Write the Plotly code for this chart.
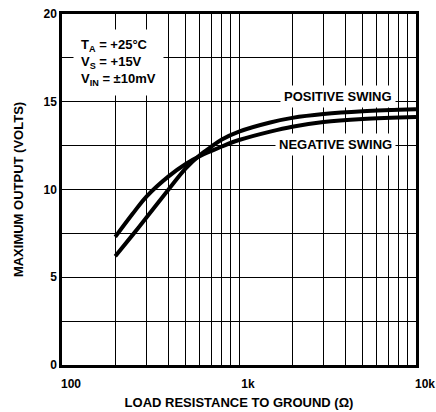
import plotly.graph_objects as go

# Load resistance (ohms)
load_r = [200, 250, 300, 400, 500, 600, 700, 800, 1000, 1500, 2000, 3000, 5000, 10000]
# Maximum output (volts)
positive_swing = [6.2, 7.4, 8.4, 10.0, 11.2, 11.95, 12.45, 12.85, 13.3, 13.82, 14.08, 14.3, 14.46, 14.57]
negative_swing = [7.3, 8.6, 9.6, 10.75, 11.45, 11.9, 12.2, 12.45, 12.82, 13.3, 13.58, 13.85, 14.02, 14.13]

x_tickvals = [100, 1000, 10000]
x_ticktext = ["100", "1k", "10k"]
x_minor = [200, 300, 400, 500, 600, 700, 800, 900,
           2000, 3000, 4000, 5000, 6000, 7000, 8000, 9000]
y_tickvals = [0, 5, 10, 15, 20]

FONT = "Liberation Sans, Arial, sans-serif"

fig = go.Figure()
fig.add_trace(go.Scatter(x=load_r, y=positive_swing, mode="lines",
                         line=dict(color="black", width=4, shape="spline", smoothing=1.0),
                         showlegend=False, hoverinfo="skip"))
fig.add_trace(go.Scatter(x=load_r, y=negative_swing, mode="lines",
                         line=dict(color="black", width=4, shape="spline", smoothing=1.0),
                         showlegend=False, hoverinfo="skip"))

fig.update_layout(
    width=436, height=412,
    margin=dict(l=62, r=20, t=14, b=47),
    plot_bgcolor="white", paper_bgcolor="white",
    font=dict(family=FONT, color="black"),
)

fig.update_xaxes(
    type="log", range=[2, 4], automargin=False,
    tickvals=x_tickvals, ticktext=x_ticktext,
    tickfont=dict(size=12, family=FONT, weight="bold"),
    ticklabelshift=9, ticklabelstandoff=6,
    showgrid=True, gridcolor="black", gridwidth=1,
    minor=dict(tickvals=x_minor, showgrid=True, gridcolor="black", gridwidth=1, ticks=""),
    showline=True, linecolor="black", linewidth=2.5, mirror=True,
    ticks="", zeroline=False,
    title=dict(text="<b>LOAD RESISTANCE TO GROUND (Ω)</b>", font=dict(size=13, family=FONT), standoff=8),
)
fig.update_yaxes(
    range=[0, 20], tickvals=y_tickvals, automargin=False,
    tickfont=dict(size=12, family=FONT, weight="bold"),
    showgrid=True, gridcolor="black", gridwidth=1,
    minor=dict(dtick=2.5, showgrid=True, gridcolor="black", gridwidth=1, ticks=""),
    showline=True, linecolor="black", linewidth=2.5, mirror=True,
    ticks="", zeroline=False,
    title=dict(text="<b>MAXIMUM OUTPUT (VOLTS)</b>", font=dict(size=13, family=FONT), standoff=17),
)

fig.add_annotation(
    xref="paper", yref="paper", x=0.031, y=0.957, xanchor="left", yanchor="top",
    text="<b>T<sub>A</sub> = +25°C<br>V<sub>S</sub> = +15V<br>V<sub>IN</sub> = ±10mV</b>",
    align="left", showarrow=False, bgcolor="white", borderpad=7,
    font=dict(size=13, family=FONT, color="black"),
)
fig.add_annotation(
    xref="paper", yref="paper", x=0.78, y=0.766, xanchor="center", yanchor="middle",
    text="<b>POSITIVE SWING</b>", showarrow=False, bgcolor="white", borderpad=3,
    font=dict(size=13, family=FONT, color="black"),
)
fig.add_annotation(
    xref="paper", yref="paper", x=0.772, y=0.628, xanchor="center", yanchor="middle",
    text="<b>NEGATIVE SWING</b>", showarrow=False, bgcolor="white", borderpad=3,
    font=dict(size=13, family=FONT, color="black"),
)

fig.write_html("out.html", config={"displayModeBar": False},
               post_script="document.body.style.margin='0';")
